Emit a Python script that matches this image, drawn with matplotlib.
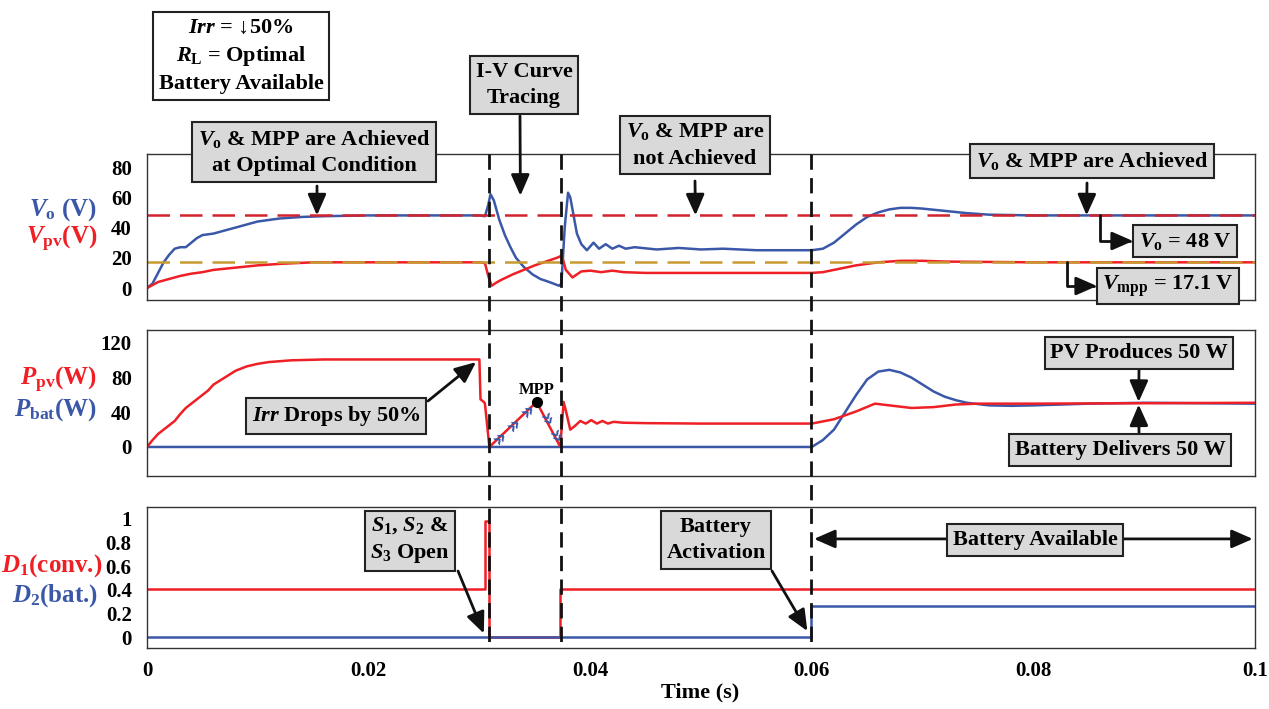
import numpy as np
import matplotlib.pyplot as plt
from matplotlib import transforms
from matplotlib.lines import Line2D

plt.rcParams['font.family'] = ['Liberation Serif', 'DejaVu Serif']
plt.rcParams['font.weight'] = 'bold'
plt.rcParams['mathtext.fontset'] = 'custom'
plt.rcParams['mathtext.rm'] = 'Liberation Serif:bold'
plt.rcParams['mathtext.it'] = 'Liberation Serif:italic:bold'
plt.rcParams['mathtext.bf'] = 'Liberation Serif:bold'

BLUE = '#3b58a8'
RED = '#ee1f25'
DRED = '#d2232e'
GOLD = '#c89a32'
BOXGRAY = '#d9d9d9'
W, H = 1269, 709

# ---- top panel: output voltage and PV voltage ----
t_vo = [0, 0.0005, 0.001, 0.0015, 0.002, 0.0025, 0.003, 0.0035, 0.004, 0.0045,
        0.005, 0.006, 0.007, 0.008, 0.009, 0.010, 0.011, 0.012, 0.014, 0.016,
        0.020, 0.030, 0.0305, 0.0308, 0.0310, 0.0313, 0.0318, 0.0323, 0.0328,
        0.0333, 0.0340, 0.0348, 0.0355, 0.0363, 0.0372, 0.0374, 0.0377, 0.0380,
        0.0382, 0.0385, 0.0388, 0.0392, 0.0397, 0.0403, 0.0408, 0.0414, 0.0420,
        0.0426, 0.0432, 0.044, 0.046, 0.048, 0.050, 0.052, 0.055, 0.060, 0.061,
        0.062, 0.063, 0.064, 0.065, 0.066, 0.067, 0.068, 0.069, 0.070, 0.072,
        0.074, 0.076, 0.080, 0.100]
vo = [0, 3, 10, 17, 22, 26, 27, 27, 30, 33,
      35, 36, 38, 40, 42, 44, 45, 46, 47, 47.5,
      48, 48, 47.5, 55, 62, 58, 45, 35, 27,
      20, 14, 9, 6, 4, 1.5, 3, 40, 63,
      60, 48, 36, 29, 25, 30, 26, 29, 26,
      28, 26, 27, 25.5, 26.5, 25.5, 26, 25, 25, 26,
      30, 36, 42, 47, 50, 52, 53, 53, 52.5, 51,
      49.5, 48.5, 48, 48]

t_vpv = [0, 0.001, 0.002, 0.003, 0.004, 0.005, 0.006, 0.008, 0.010, 0.012,
         0.015, 0.030, 0.0305, 0.0308, 0.0311, 0.0315, 0.032, 0.033, 0.034,
         0.035, 0.036, 0.037, 0.0373, 0.0375, 0.0378, 0.0384, 0.0388, 0.0392,
         0.040, 0.041, 0.042, 0.043, 0.045, 0.060, 0.061, 0.062, 0.064, 0.066,
         0.068, 0.070, 0.072, 0.080, 0.100]
vpv = [0, 4, 6, 8, 9.5, 10.5, 12, 13.5, 15, 16,
       17, 17, 16.5, 8, 1.5, 3.5, 5.5, 9, 12,
       15, 17.5, 20, 21, 20, 12, 7, 9, 11,
       11.5, 10.5, 11.5, 10.5, 10, 10, 10.5, 12, 15, 17,
       18, 18, 17.5, 17, 17]

vo_ref = 48
vmpp_ref = 17.1

# ---- middle panel: PV power and battery power ----
t_ppv = [0, 0.0005, 0.001, 0.0015, 0.002, 0.0025, 0.003, 0.0035, 0.004, 0.0045,
         0.005, 0.0055, 0.006, 0.0065, 0.007, 0.0075, 0.008, 0.009, 0.010, 0.011,
         0.013, 0.016, 0.0300, 0.0301, 0.0304, 0.0305, 0.0309, 0.03516, 0.0373,
         0.0376, 0.0378, 0.0382, 0.0386, 0.0391, 0.0396, 0.0401, 0.0406, 0.0411,
         0.0416, 0.0421, 0.043, 0.045, 0.050, 0.060, 0.062, 0.064, 0.0657, 0.067,
         0.069, 0.071, 0.073, 0.075, 0.080, 0.100]
ppv = [0, 8, 15, 20, 25, 30, 38, 45, 50, 55,
       60, 65, 72, 76, 80, 84, 88, 93, 96, 98,
       100, 101, 101, 55, 52, 50, 0, 52, 0,
       52, 42, 20, 24, 30, 27, 31, 27, 30,
       27, 29, 28, 27.5, 27, 27, 32, 41, 50, 48,
       45, 46, 49, 50, 50, 51]

t_pbat = [0, 0.060, 0.061, 0.062, 0.063, 0.064, 0.065, 0.066, 0.067, 0.068,
          0.069, 0.070, 0.071, 0.072, 0.073, 0.074, 0.076, 0.078, 0.080, 0.085,
          0.090, 0.100]
pbat = [0, 0, 8, 20, 40, 60, 78, 87, 89, 86,
        80, 72, 64, 58, 54, 51, 48, 47.5, 48, 50,
        51, 50]

mpp_t, mpp_p = 0.03516, 52
chevron_t = [0.0318, 0.0331, 0.0344, 0.0360, 0.0368]

# ---- bottom panel: duty cycles ----
t_d1 = [0, 0.0305, 0.0309, 0.0373, 0.100]
d1 = [0.41, 0.98, 0.0, 0.41, 0.41]
t_d2 = [0, 0.0599, 0.100]
d2 = [0.0, 0.265, 0.265]

events = [0.03087, 0.03736, 0.05993]


def fp(x, y):
    """image pixel -> figure fraction"""
    return (x / W, 1 - y / H)


fig = plt.figure(figsize=(12.69, 7.09), dpi=100)
ax1 = fig.add_axes([147 / W, 1 - 300 / H, 1108 / W, 146 / H])
ax2 = fig.add_axes([147 / W, 1 - 476 / H, 1108 / W, 146 / H])
ax3 = fig.add_axes([147 / W, 1 - 648 / H, 1108 / W, 141 / H])

ax1.plot(t_vo, vo, color=BLUE, lw=1.8)
ax1.plot(t_vpv, vpv, color=RED, lw=1.8)
ax1.axhline(vo_ref, color=DRED, lw=1.8, dashes=(9, 4))
ax1.axhline(vmpp_ref, color=GOLD, lw=1.8, dashes=(9, 4))
ax1.set_ylim(-7.9, 88.6)
ax1.set_yticks([0, 20, 40, 60, 80])

ax2.plot(t_pbat, pbat, color=BLUE, lw=1.8)
ax2.plot(t_ppv, ppv, color=RED, lw=1.8)
ax2.plot([mpp_t], [mpp_p], 'o', color='black', ms=7, zorder=5)
ax2.text(mpp_t, mpp_p + 5, 'MPP', ha='center', va='bottom', fontsize=12)
for tc in chevron_t:
    pc = np.interp(tc, t_ppv, ppv)
    ang = 43 if tc < mpp_t else -63
    ax2.text(tc, pc, '»', color=BLUE, fontsize=15, rotation=ang,
             ha='center', va='center', rotation_mode='anchor',
             family='DejaVu Sans', zorder=6)
ax2.set_ylim(-33.5, 135)
ax2.set_yticks([0, 40, 80, 120])

ax3.plot(t_d1, d1, color=RED, lw=1.8, drawstyle='steps-post')
ax3.plot(t_d2, d2, color=BLUE, lw=1.8, drawstyle='steps-post')
ax3.set_ylim(-0.093, 1.10)
ax3.set_yticks([0, 0.2, 0.4, 0.6, 0.8, 1])
ax3.set_yticklabels(['0', '0.2', '0.4', '0.6', '0.8', '1'])
ax3.set_xticks([0, 0.02, 0.04, 0.06, 0.08, 0.1])
ax3.set_xticklabels(['0', '0.02', '0.04', '0.06', '0.08', '0.1'])

for ax in (ax1, ax2, ax3):
    ax.set_xlim(0, 0.1)
    ax.set_facecolor('none')
    ax.tick_params(length=0, labelsize=15, pad=11)
    ax.tick_params(axis='x', pad=9)
    for s in ax.spines.values():
        s.set_linewidth(1.0)
        s.set_color('#333333')
for ax in (ax1, ax2):
    ax.set_xticks([0, 0.02, 0.04, 0.06, 0.08, 0.1])
    ax.set_xticklabels([])

fig.text(*fp(700, 692), 'Time (s)', fontsize=16, fontweight='bold',
         ha='center', va='center')

# vertical event lines spanning all three panels
tr = transforms.blended_transform_factory(ax3.transData, fig.transFigure)
for te in events:
    fig.add_artist(Line2D([te, te], [1 - 154 / H, 1 - 648 / H], transform=tr,
                          color='#111111', lw=2.0, dashes=(5.5, 3), zorder=3))

# coloured axis labels
lab = dict(fontsize=18, ha='right', va='center')
fig.text(*fp(97, 210), r'$V_{\mathrm{o}}$ (V)', color=BLUE, **lab)
fig.text(*fp(97, 239), r'$V_{\mathrm{pv}}$(V)', color=RED, **lab)
fig.text(*fp(97, 380), r'$P_{\mathrm{pv}}$(W)', color=RED, **lab)
fig.text(*fp(97, 410), r'$P_{\mathrm{bat}}$(W)', color=BLUE, **lab)
fig.text(*fp(102, 566), r'$D_{1}$(conv.)', color=RED, **lab)
fig.text(*fp(98, 596), r'$D_{2}$(bat.)', color=BLUE, **lab)

gbox = dict(boxstyle='square,pad=0.25', fc=BOXGRAY, ec='#222222', lw=1.5)
arw = dict(arrowstyle='-|>,head_length=0.8,head_width=0.35', color='#111111',
           lw=2, mutation_scale=16, shrinkA=0, shrinkB=0)


def box(x, y, s, fc=BOXGRAY):
    b = dict(gbox, fc=fc)
    fig.text(*fp(x, y), s, fontsize=16, ha='center', va='center',
             multialignment='center', bbox=b, zorder=10, linespacing=1.4)


def arrow(ax, xy, tail_px):
    ax.annotate('', xy=xy, xycoords='data', xytext=fp(*tail_px),
                textcoords='figure fraction', arrowprops=dict(arw),
                annotation_clip=False)


box(241, 56, '$Irr$ = ↓50%\n$R_{\\mathrm{L}}$ = Optimal\nBattery Available', fc='white')
box(524, 85, 'I-V Curve\nTracing')
box(314, 152, '$V_{\\mathrm{o}}$ & MPP are Achieved\nat Optimal Condition')
box(695, 145, '$V_{\\mathrm{o}}$ & MPP are\nnot Achieved')
box(1092, 161, '$V_{\\mathrm{o}}$ & MPP are Achieved')
box(1185, 241, '$V_{\\mathrm{o}}$ = 48 V')
box(1168, 286, '$V_{\\mathrm{mpp}}$ = 17.1 V')
box(1139, 353, 'PV Produces 50 W')
box(1120, 450, 'Battery Delivers 50 W')
box(336, 416, '$Irr$ Drops by 50%')
box(410, 540, '$S_{1}$, $S_{2}$ &\n$S_{3}$ Open')
box(716, 540, 'Battery\nActivation')
box(1035, 540, 'Battery Available')

arrow(ax1, (0.0337, 61), (520, 116))
arrow(ax1, (0.01534, vo_ref), (317, 186))
arrow(ax1, (0.0495, vo_ref), (695, 181))
arrow(ax1, (0.0848, vo_ref), (1087, 183))
ax1.annotate('', xy=fp(1133, 241), xycoords='figure fraction',
             xytext=(0.0860, vo_ref), textcoords='data', annotation_clip=False,
             arrowprops=dict(arw, connectionstyle='angle,angleA=90,angleB=0,rad=0'))
ax1.annotate('', xy=fp(1097, 286), xycoords='figure fraction',
             xytext=(0.0830, vmpp_ref), textcoords='data', annotation_clip=False,
             arrowprops=dict(arw, connectionstyle='angle,angleA=90,angleB=0,rad=0'))
arrow(ax2, (0.0895, 52), (1139, 370))
arrow(ax2, (0.0895, 49), (1139, 433))
arrow(ax2, (0.0297, 98), (428, 401))
arrow(ax3, (0.0304, 0.03), (458, 571))
arrow(ax3, (0.0596, 0.05), (772, 571))
ax3.annotate('', xy=(0.0602, 0.83), xytext=(0.0998, 0.83), annotation_clip=False,
             arrowprops=dict(arw, arrowstyle='<|-|>,head_length=0.8,head_width=0.35'))

fig.savefig('out.png', dpi=100)
